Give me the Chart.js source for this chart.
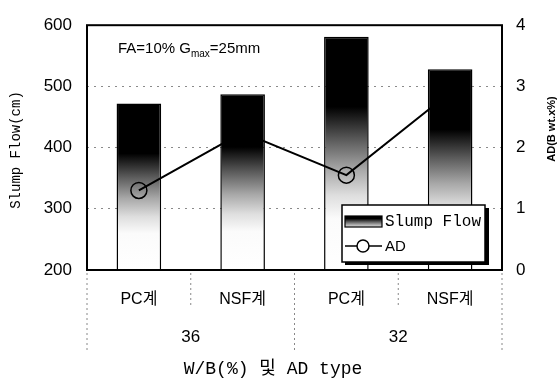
<!DOCTYPE html>
<html>
<head>
<meta charset="utf-8">
<script src="https://cdn.jsdelivr.net/npm/chart.js@4.4.1/dist/chart.umd.min.js"></script>
<style>
	body { margin: 0; background: #fff; }
	canvas { display: block; }
</style>
</head>
<body>
<canvas id="chart-slump" width="559" height="381"></canvas>
<script>
	// data
	const categories = ['PC계', 'NSF계', 'PC계', 'NSF계'];
	const groups = ['36', '32'];
	const slumpFlow = [472, 487, 581, 528];
	const adContent = [1.3, 2.25, 1.55, 2.9];
	const leftTicks = [200, 300, 400, 500, 600];
	const rightTicks = [0, 1, 2, 3, 4];

	const sansFont = "'Liberation Sans', 'Noto Sans CJK KR', sans-serif";
	const monoFont = "'Liberation Mono', 'Noto Sans CJK KR', monospace";

	function barGradient(c, top, bottom) {
		let g = c.createLinearGradient(0, top, 0, bottom);
		g.addColorStop(0, '#000');
		g.addColorStop(0.3, '#000');
		g.addColorStop(0.44, '#5a5a5a');
		g.addColorStop(0.57, '#a8a8a8');
		g.addColorStop(0.68, '#dedede');
		g.addColorStop(0.78, '#fbfbfb');
		g.addColorStop(1, '#fff');
		return g;
	}

	// extras: frame, group labels, titles, note and legend
	const decorPlugin = {
		id: 'decor',
		afterDatasetsDraw(chart) {
			const c = chart.ctx;
			const a = chart.chartArea;
			const xs = chart.scales.x;

			c.save();
			// frame
			c.strokeStyle = '#000';
			c.lineWidth = 2;
			c.strokeRect(a.left, a.top, a.right - a.left, a.bottom - a.top);

			// dotted separators under the axis
			c.strokeStyle = '#888';
			c.lineWidth = 1;
			c.setLineDash([2, 3]);
			const step = (a.right - a.left) / categories.length;
			for (let i = 0; i <= categories.length; i++) {
				let x = a.left + step * i;
				let len = (i % 2 == 0) ? 82 : 36;
				c.beginPath();
				c.moveTo(x, a.bottom + 3);
				c.lineTo(x, a.bottom + len);
				c.stroke();
			}
			c.setLineDash([]);

			// group labels
			c.fillStyle = '#000';
			c.font = '17px ' + sansFont;
			c.textAlign = 'center';
			c.textBaseline = 'middle';
			groups.forEach(function(g, i) {
				let x = (xs.getPixelForValue(i * 2) + xs.getPixelForValue(i * 2 + 1)) / 2;
				c.fillText(g, x, 337);
			});

			// x title
			c.font = '18px ' + monoFont;
			c.fillText('W/B(%) 및 AD type', 273, 369);

			// left title
			c.save();
			c.translate(16, 150);
			c.rotate(-Math.PI / 2);
			c.font = '14px ' + monoFont;
			c.fillText('Slump Flow(cm)', 0, 0);
			c.restore();

			// right title
			c.save();
			c.translate(552, 129);
			c.rotate(-Math.PI / 2);
			c.font = 'bold 11px ' + sansFont;
			c.fillText('AD(B wt.x%)', 0, 0);
			c.restore();

			// note FA=10% Gmax=25mm
			c.textAlign = 'left';
			c.textBaseline = 'alphabetic';
			let x0 = 118;
			c.font = '15px ' + sansFont;
			c.fillText('FA=10% G', x0, 53);
			x0 += c.measureText('FA=10% G').width;
			c.font = '10px ' + sansFont;
			c.fillText('max', x0, 57);
			x0 += c.measureText('max').width;
			c.font = '15px ' + sansFont;
			c.fillText('=25mm', x0, 53);

			// legend box with shadow
			c.fillStyle = '#000';
			c.fillRect(345, 208, 144, 57);
			c.fillStyle = '#fff';
			c.fillRect(342, 205, 143, 57);
			c.strokeStyle = '#000';
			c.lineWidth = 1.5;
			c.strokeRect(342, 205, 143, 57);

			c.fillStyle = barGradient(c, 212, 234);
			c.fillRect(345, 216, 37, 11);
			c.lineWidth = 1.2;
			c.strokeRect(345, 216, 37, 11);

			c.fillStyle = '#000';
			c.textBaseline = 'middle';
			c.font = '16px ' + monoFont;
			c.fillText('Slump Flow', 385, 222);

			c.lineWidth = 1.5;
			c.beginPath();
			c.moveTo(345, 246);
			c.lineTo(382, 246);
			c.stroke();
			c.beginPath();
			c.arc(363, 246, 6, 0, Math.PI * 2);
			c.fillStyle = '#fff';
			c.fill();
			c.stroke();
			c.fillStyle = '#000';
			c.font = '15px ' + sansFont;
			c.fillText('AD', 385, 247);

			c.restore();
		}
	};

	const configChartSlump = {
		type: 'bar',
		data: {
			labels: categories,
			datasets: [{
				type: 'line',
				label: 'AD',
				data: adContent,
				yAxisID: 'y1',
				order: 0,
				borderColor: '#000',
				borderWidth: 2,
				pointRadius: 8,
				pointStyle: 'circle',
				pointBackgroundColor: 'rgba(0,0,0,0)',
				pointBorderColor: '#000',
				pointBorderWidth: 1.5,
				tension: 0
			}, {
				type: 'bar',
				label: 'Slump Flow',
				data: slumpFlow,
				yAxisID: 'y',
				order: 1,
				borderColor: '#000',
				borderWidth: 1.5,
				borderSkipped: 'bottom',
				categoryPercentage: 1,
				barPercentage: 0.43,
				backgroundColor: function(context) {
					const chart = context.chart;
					if (!chart.chartArea || context.type !== 'data') return '#000';
					const ys = chart.scales.y;
					const top = ys.getPixelForValue(context.raw);
					const bottom = ys.getPixelForValue(ys.min);
					return barGradient(chart.ctx, top, bottom);
				}
			}]
		},
		options: {
			responsive: false,
			animation: false,
			layout: { padding: { top: 16, left: 0, right: 0, bottom: 0 } },
			plugins: {
				legend: { display: false },
				tooltip: { enabled: false }
			},
			scales: {
				x: {
					grid: { display: false, drawTicks: false },
					border: { display: false },
					ticks: {
						color: '#000',
						padding: 20,
						font: { family: sansFont, size: 16 }
					},
					afterFit: function(scale) { scale.height = 111; }
				},
				y: {
					position: 'left',
					min: leftTicks[0],
					max: leftTicks[leftTicks.length - 1],
					afterBuildTicks: function(scale) {
						scale.ticks = leftTicks.map(v => ({ value: v }));
					},
					grid: {
						drawTicks: false,
						color: function(ctx) {
							if (ctx.tick.value == 200 || ctx.tick.value == 600) return 'rgba(0,0,0,0)';
							return '#8a8a8a';
						},
						lineWidth: 1
					},
					border: { display: false, dash: [2, 5] },
					ticks: {
						color: '#000',
						padding: 15,
						font: { family: sansFont, size: 17 }
					},
					afterFit: function(scale) { scale.width = 87; }
				},
				y1: {
					position: 'right',
					min: rightTicks[0],
					max: rightTicks[rightTicks.length - 1],
					afterBuildTicks: function(scale) {
						scale.ticks = rightTicks.map(v => ({ value: v }));
					},
					grid: { display: false, drawTicks: false },
					border: { display: false },
					ticks: {
						color: '#000',
						padding: 14,
						font: { family: sansFont, size: 17 }
					},
					afterFit: function(scale) { scale.width = 57; }
				}
			}
		},
		plugins: [decorPlugin]
	};

	var ctx = document.getElementById('chart-slump').getContext('2d');
	chartSlump = new Chart(ctx, configChartSlump);
</script>
</body>
</html>
